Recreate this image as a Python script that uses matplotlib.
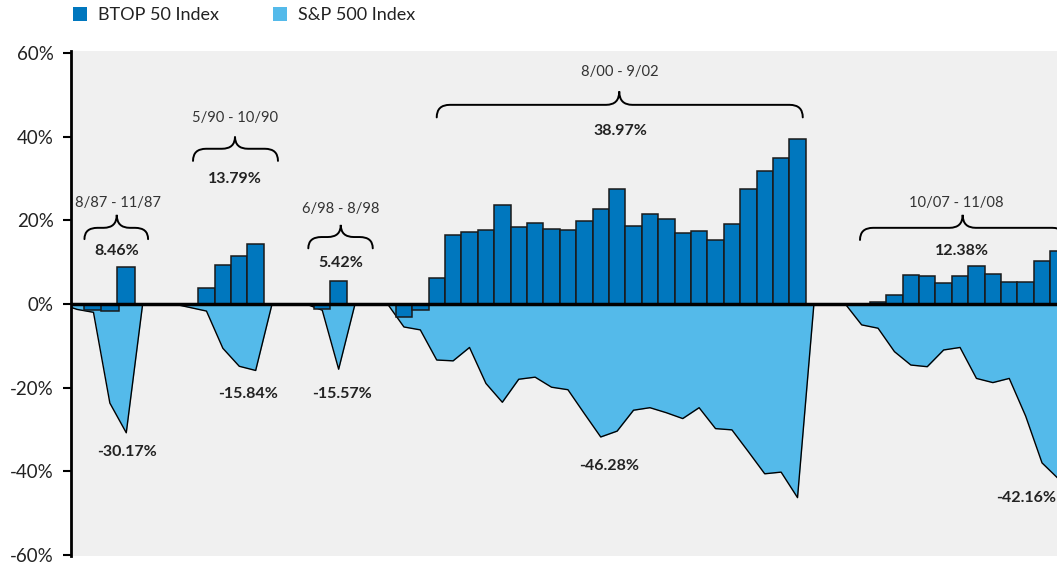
import numpy as np
import matplotlib
matplotlib.use('Agg')
import matplotlib.pyplot as plt
from matplotlib.path import Path
from matplotlib.patches import PathPatch, Patch

plt.rcParams['font.family'] = ['Lato', 'DejaVu Sans']

# ---- DATA (monthly values, %) ----
period_labels = ['8/87 - 11/87', '5/90 - 10/90', '6/98 - 8/98', '8/00 - 9/02', '10/07 - 11/08']
btop_totals = ['8.46%', '13.79%', '5.42%', '38.97%', '12.38%']
sp_totals = ['-30.17%', '-15.84%', '-15.57%', '-46.28%', '-42.16%']

btop_87 = [np.nan, -1.4, -1.8, 8.8]
sp_87 = [-1.3, -2.0, -23.7, -30.8]

btop_90 = [np.nan, 3.9, 9.3, 11.5, 14.3]
sp_90 = [-0.85, -1.7, -10.6, -14.9, -15.9]

btop_98 = [-1.2, 5.6]
sp_98 = [-1.5, -15.6]

btop_00 = [-3.1, -1.4, 6.2, 16.6, 17.3, 17.7, 23.6, 18.4, 19.3, 18.0, 17.6, 19.9, 22.7,
           27.6, 18.7, 21.4, 20.4, 17.0, 17.5, 15.3, 19.0, 27.4, 31.9, 34.8, 39.5]
sp_00 = [-5.5, -6.2, -13.4, -13.6, -10.4, -19.0, -23.5, -18.0, -17.5, -19.9, -20.5, -26.2, -31.8,
         -30.4, -25.4, -24.8, -26.0, -27.4, -24.8, -29.8, -30.1, -35.3, -40.6, -40.2, -46.3]

btop_07 = [np.nan, 0.5, 2.2, 7.0, 6.6, 5.1, 6.7, 9.1, 7.1, 5.3, 5.3, 10.2, 12.6]
sp_07 = [-5.0, -5.8, -11.4, -14.6, -15.0, -11.0, -10.4, -17.8, -18.8, -17.8, -26.8, -38.0, -41.8]

btop_series = [btop_87, btop_90, btop_98, btop_00, btop_07]
sp_series = [sp_87, sp_90, sp_98, sp_00, sp_07]

# ---- LAYOUT ----
starts = [0.37, 7.26, 15.32, 20.30, 48.21]     # x of first month in each window
bar_widths = [1.1, 1.0, 1.0, 1.0, 1.0]
# brace: x0, x1, xtip, y_end, y_flat, y_tip
braces = [(0.82, 4.70, 2.79, 15.5, 18.2, 21.3),
          (7.44, 12.62, 10.0, 34.2, 37.1, 40.0),
          (14.47, 18.40, 16.45, 13.3, 16.0, 18.9),
          (22.30, 44.62, 33.43, 44.6, 47.6, 50.8),
          (48.11, 60.63, 54.37, 15.3, 18.2, 21.3)]
date_pos = [(2.85, 24.2), (10.0, 44.5), (16.45, 22.7), (33.48, 55.5), (54.0, 24.2)]
btop_pos = [(2.79, 12.7), (10.0, 29.9), (16.45, 9.9), (33.48, 41.4), (54.31, 12.7)]
sp_pos = [(3.40, -35.5), (10.81, -21.5), (16.52, -21.5), (32.80, -38.7), (58.22, -46.3)]

C_BTOP = '#0077BE'
C_SP = '#54BAEA'
C_BG = '#F0F0F0'


def draw_brace(ax, x0, x1, xt, y_end, y_flat, y_tip, r=0.8):
	verts = [(x0, y_end), (x0, y_flat), (x0 + r, y_flat),
	         (xt - r, y_flat), (xt, y_flat), (xt, y_tip),
	         (xt, y_flat), (xt + r, y_flat),
	         (x1 - r, y_flat), (x1, y_flat), (x1, y_end)]
	codes = [Path.MOVETO, Path.CURVE3, Path.CURVE3,
	         Path.LINETO, Path.CURVE3, Path.CURVE3,
	         Path.CURVE3, Path.CURVE3,
	         Path.LINETO, Path.CURVE3, Path.CURVE3]
	ax.add_patch(PathPatch(Path(verts, codes), fc='none', ec='black', lw=1.4, zorder=6,
	                       capstyle='round'))


fig = plt.figure(figsize=(10.57, 5.67), dpi=100)
ax = fig.add_axes([71/1057, 1 - 556.2/567, 986/1057, 504.9/567])
ax.set_facecolor(C_BG)

for i in range(len(starts)):
	btop = np.array(btop_series[i], dtype=float)
	sp = np.array(sp_series[i], dtype=float)
	xs = starts[i] + np.arange(len(sp))
	# S&P area with zero anchors one month either side
	xa = np.concatenate([[xs[0] - 1], xs, [xs[-1] + 1]])
	ya = np.concatenate([[0], sp, [0]])
	ax.fill_between(xa, 0, ya, color=C_SP, lw=0, zorder=2)
	ax.plot(xa, ya, color='black', lw=1.0, zorder=3)
	xb = starts[i] + np.arange(len(btop))
	ok = ~np.isnan(btop)
	ax.bar(xb[ok], btop[ok], width=bar_widths[i], color=C_BTOP, edgecolor='#1a1a1a',
	       linewidth=1.1, zorder=4)

	ax.text(*date_pos[i], period_labels[i], ha='center', va='center', fontsize=10.6,
	        color='#333333', zorder=7)
	ax.text(*btop_pos[i], btop_totals[i], ha='center', va='center', fontsize=11.5,
	        fontweight='bold', color='#222222', zorder=7)
	ax.text(*sp_pos[i], sp_totals[i], ha='center', va='center', fontsize=11.5,
	        fontweight='bold', color='#222222', zorder=7)
	draw_brace(ax, *braces[i])

ax.axhline(0, color='black', lw=2.5, zorder=5)

ax.set_xlim(0, 986/16.4)
ax.set_ylim(-60.3, 60.4)
ax.set_yticks(np.arange(-60, 61, 20))
ax.set_yticklabels([f'{v}%' for v in range(-60, 61, 20)])
ax.tick_params(axis='y', direction='out', length=6, width=1.5, pad=6.5,
               labelsize=13.5, labelcolor='#222222')
ax.set_xticks([])
for s in ['top', 'right', 'bottom']:
	ax.spines[s].set_visible(False)
ax.spines['left'].set_linewidth(2)

fig.legend(handles=[Patch(fc=C_BTOP), Patch(fc=C_SP)],
           labels=['BTOP 50 Index', 'S&P 500 Index'],
           loc='upper left', bbox_to_anchor=(73/1057, 1 - 7/567), ncol=2, frameon=False,
           fontsize=13, handlelength=0.78, handleheight=0.78, handletextpad=0.6,
           columnspacing=3.0, borderpad=0, borderaxespad=0, labelcolor='#222222')

fig.savefig('out.png', dpi=100, facecolor='white')
